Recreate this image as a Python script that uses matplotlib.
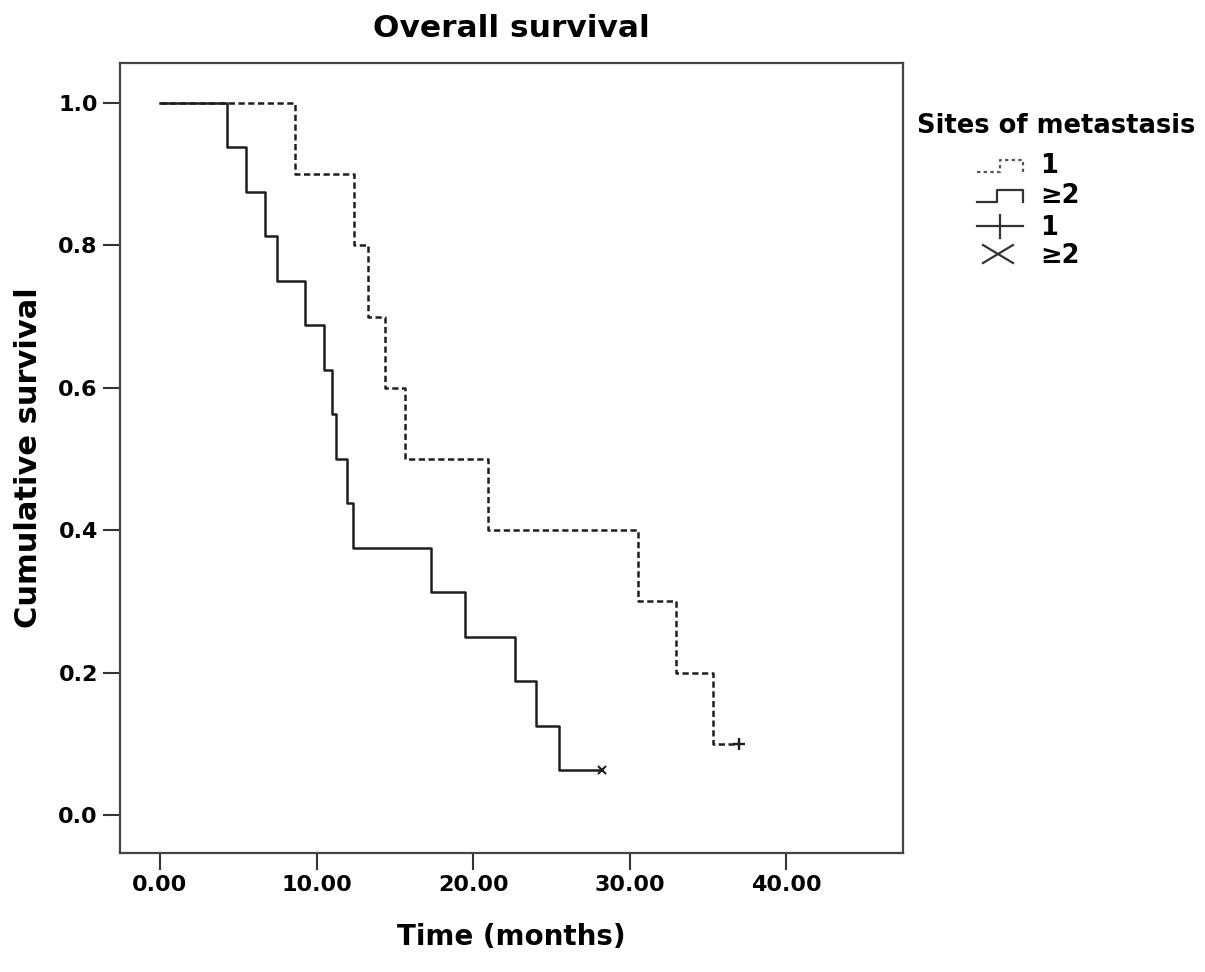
import matplotlib
matplotlib.use("Agg")
import matplotlib.pyplot as plt
from matplotlib.lines import Line2D

# the reference font is a wide bold sans, DejaVu Sans Bold fits its proportions
plt.rcParams["font.family"] = ["DejaVu Sans"]
plt.rcParams["font.weight"] = "bold"

# data
time_one = [0, 8.6, 12.4, 13.26, 14.4, 15.65, 20.95, 30.5, 32.95, 35.3, 37.0]
surv_one = [1.0, 0.9, 0.8, 0.7, 0.6, 0.5, 0.4, 0.3, 0.2, 0.1, 0.1]
cens_one = (37.0, 0.1)

time_two = [0, 4.3, 5.5, 6.7, 7.45, 9.25, 10.45, 10.96, 11.24, 11.95, 12.3,
            17.3, 19.5, 22.7, 24.0, 25.5, 28.2]
surv_two = [1.0, 0.9375, 0.875, 0.8125, 0.75, 0.6875, 0.625, 0.5625, 0.5,
            0.4375, 0.375, 0.3125, 0.25, 0.1875, 0.125, 0.0625, 0.0625]
cens_two = (28.2, 0.0625)

xticks = [0, 10, 20, 30, 40]
yticks = [0.0, 0.2, 0.4, 0.6, 0.8, 1.0]

W, H = 1205, 972
fig = plt.figure(figsize=(W / 100, H / 100), dpi=100)
ax = fig.add_axes([120 / W, 1 - 853 / H, (903 - 120) / W, (853 - 63) / H])

lc = "#1e1e1e"
ax.step(time_one, surv_one, where="post", color=lc, lw=1.8, linestyle=(0, (2.5, 1.4)))
ax.step(time_two, surv_two, where="post", color=lc, lw=1.8)
ax.plot(*cens_one, marker="+", color=lc, ms=9, mew=1.7)
ax.plot(*cens_two, marker="x", color=lc, ms=6, mew=1.5)

ax.set_xlim(-2.55, 47.45)
ax.set_ylim(-0.0534, 1.056)
ax.set_xticks(xticks)
ax.set_xticklabels(["%.2f" % v for v in xticks])
ax.set_yticks(yticks)
ax.set_yticklabels(["%.1f" % v for v in yticks])
ax.tick_params(direction="out", length=12, width=1.5, color="#333333",
               labelsize=16, pad=4)
for s in ax.spines.values():
    s.set_linewidth(1.6)
    s.set_color("#444444")

ax.set_xlabel("Time (months)", fontsize=20, fontweight="bold", labelpad=20)
ax.set_ylabel("Cumulative survival", fontsize=22, fontweight="bold", labelpad=11)
ax.set_title("Overall survival", fontsize=22.5, fontweight="bold", pad=19)


# legend drawn by hand in pixel positions
def fx(px):
    return px / W


def fy(py):
    return 1 - py / H


fig.text(fx(917), fy(126), "Sites of metastasis", fontsize=18.5, fontweight="bold",
         va="center", ha="left")

# dashed step icon
fig.add_artist(Line2D([fx(977), fx(1000), fx(1000), fx(1023), fx(1023)],
                      [fy(172), fy(172), fy(160), fy(160), fy(172)],
                      color="#555555", lw=1.6, linestyle=(0, (1.5, 1.5))))
# solid step icon
fig.add_artist(Line2D([fx(977), fx(997), fx(997), fx(1023), fx(1023)],
                      [fy(202), fy(202), fy(190), fy(190), fy(202)],
                      color="#333333", lw=1.6))
# plus icon
fig.add_artist(Line2D([fx(977), fx(1023)], [fy(226), fy(226)], color="#333333", lw=1.6))
fig.add_artist(Line2D([fx(1000), fx(1000)], [fy(215), fy(238)], color="#333333", lw=1.6))
# cross icon
fig.add_artist(Line2D([fx(983), fx(1013)], [fy(245), fy(263)], color="#333333", lw=1.6))
fig.add_artist(Line2D([fx(983), fx(1013)], [fy(263), fy(245)], color="#333333", lw=1.6))

entries = ["1", "\u22652", "1", "\u22652"]
ys = [166, 196, 228, 256]
for lab, yy in zip(entries, ys):
    fig.text(fx(1040), fy(yy), lab, fontsize=18.5, fontweight="bold", va="center", ha="left")

fig.savefig("out.png", dpi=100, facecolor="white")
